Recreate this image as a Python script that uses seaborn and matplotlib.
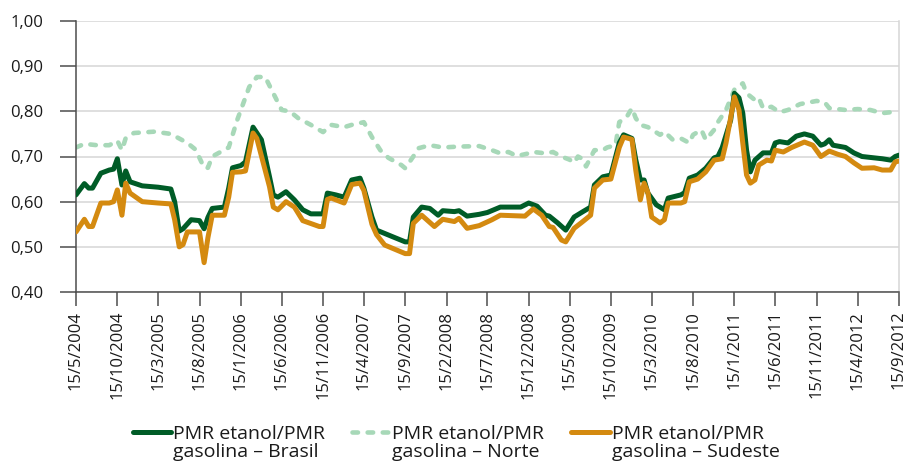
import matplotlib
matplotlib.use("Agg")
import matplotlib.pyplot as plt
from matplotlib.legend_handler import HandlerLine2D
import seaborn as sns
import pandas as pd
import numpy as np

# ---------------- data ----------------
datas_brasil = [
    "2004-05-15", "2004-06-15", "2004-07-01", "2004-07-15", "2004-08-15", "2004-09-15",
    "2004-10-01", "2004-10-15", "2004-11-01", "2004-11-15", "2004-12-01", "2005-01-15",
    "2005-03-15", "2005-05-01", "2005-05-15", "2005-06-01", "2005-06-15", "2005-07-15",
    "2005-08-15", "2005-09-01", "2005-09-15", "2005-10-01", "2005-11-15", "2005-12-01",
    "2005-12-15", "2006-01-15", "2006-02-01", "2006-03-01", "2006-04-01", "2006-05-01",
    "2006-05-15", "2006-06-01", "2006-07-01", "2006-08-01", "2006-09-01", "2006-10-01",
    "2006-11-15", "2006-12-01", "2007-01-01", "2007-02-01", "2007-03-01", "2007-04-01",
    "2007-04-15", "2007-05-15", "2007-06-01", "2007-08-01", "2007-09-15", "2007-10-01",
    "2007-10-15", "2007-11-15", "2007-12-15", "2008-01-15", "2008-02-01", "2008-03-15",
    "2008-04-01", "2008-05-01", "2008-06-15", "2008-07-15", "2008-09-01", "2008-11-15",
    "2008-12-15", "2009-01-15", "2009-02-15", "2009-03-01", "2009-04-01", "2009-05-01",
    "2009-06-01", "2009-07-01", "2009-08-01", "2009-08-15", "2009-09-15", "2009-10-15",
    "2009-11-15", "2009-12-01", "2010-01-01", "2010-01-15", "2010-02-01", "2010-02-15",
    "2010-03-01", "2010-04-01", "2010-05-01", "2010-05-15", "2010-07-01", "2010-07-15",
    "2010-08-01", "2010-09-01", "2010-10-01", "2010-11-01", "2010-11-15", "2010-12-01",
    "2011-01-01", "2011-01-15", "2011-02-01", "2011-02-15", "2011-03-01", "2011-03-15",
    "2011-04-01", "2011-05-01", "2011-06-01", "2011-06-15", "2011-07-01", "2011-08-01",
    "2011-09-01", "2011-10-01", "2011-11-01", "2011-12-01", "2011-12-15", "2012-01-01",
    "2012-01-15", "2012-03-01", "2012-04-01", "2012-05-01", "2012-06-15", "2012-07-15",
    "2012-08-15", "2012-09-01", "2012-09-15",
]
brasil = [
    0.615, 0.640, 0.630, 0.630, 0.663, 0.670,
    0.672, 0.695, 0.637, 0.668, 0.644, 0.635,
    0.632, 0.628, 0.600, 0.535, 0.540, 0.560,
    0.558, 0.540, 0.565, 0.585, 0.588, 0.630,
    0.675, 0.680, 0.688, 0.765, 0.737, 0.655,
    0.615, 0.610, 0.622, 0.604, 0.582, 0.573,
    0.573, 0.619, 0.615, 0.610, 0.648, 0.652,
    0.630, 0.566, 0.537, 0.522, 0.511, 0.511,
    0.566, 0.588, 0.585, 0.570, 0.580, 0.578,
    0.580, 0.568, 0.572, 0.576, 0.588, 0.588,
    0.597, 0.590, 0.570, 0.568, 0.553, 0.537,
    0.566, 0.577, 0.588, 0.637, 0.655, 0.659,
    0.730, 0.748, 0.740, 0.693, 0.648, 0.648,
    0.619, 0.593, 0.582, 0.608, 0.615, 0.620,
    0.652, 0.659, 0.674, 0.697, 0.700, 0.720,
    0.780, 0.840, 0.830, 0.796, 0.714, 0.666,
    0.692, 0.708, 0.708, 0.730, 0.733, 0.730,
    0.745, 0.750, 0.745, 0.725, 0.728, 0.737,
    0.725, 0.720, 0.708, 0.700, 0.697, 0.695,
    0.692, 0.700, 0.703,
]

datas_norte = [
    "2004-05-15", "2004-06-15", "2004-08-01", "2004-09-15", "2004-10-01", "2004-10-15",
    "2004-11-01", "2004-11-15", "2004-12-15", "2005-03-01", "2005-05-01", "2005-07-01",
    "2005-08-01", "2005-09-01", "2005-09-15", "2005-10-01", "2005-12-01", "2006-01-01",
    "2006-02-15", "2006-03-15", "2006-04-15", "2006-05-15", "2006-06-15", "2006-07-15",
    "2006-08-15", "2006-10-01", "2006-11-15", "2006-12-15", "2007-02-01", "2007-03-01",
    "2007-04-15", "2007-05-15", "2007-06-15", "2007-07-15", "2007-09-01", "2007-09-15",
    "2007-10-15", "2007-11-01", "2007-12-15", "2008-02-01", "2008-04-01", "2008-06-15",
    "2008-08-01", "2008-09-01", "2008-10-01", "2008-11-01", "2008-12-15", "2009-01-01",
    "2009-02-15", "2009-03-15", "2009-04-15", "2009-05-15", "2009-06-01", "2009-06-15",
    "2009-07-01", "2009-07-15", "2009-08-15", "2009-09-15", "2009-10-01", "2009-11-01",
    "2009-11-15", "2009-12-15", "2010-01-01", "2010-01-15", "2010-02-01", "2010-03-01",
    "2010-04-15", "2010-05-01", "2010-06-01", "2010-07-01", "2010-08-01", "2010-08-15",
    "2010-09-15", "2010-10-01", "2010-11-01", "2010-11-15", "2010-12-15", "2011-01-15",
    "2011-02-15", "2011-03-01", "2011-04-01", "2011-04-15", "2011-05-01", "2011-06-01",
    "2011-07-01", "2011-08-01", "2011-09-15", "2011-11-15", "2011-12-15", "2012-01-01",
    "2012-03-01", "2012-04-15", "2012-06-01", "2012-07-15", "2012-09-15",
]
norte = [
    0.720, 0.728, 0.725, 0.725, 0.730, 0.735,
    0.714, 0.741, 0.752, 0.755, 0.750, 0.730,
    0.715, 0.675, 0.675, 0.700, 0.720, 0.780,
    0.854, 0.876, 0.876, 0.840, 0.803, 0.800,
    0.785, 0.770, 0.754, 0.770, 0.765, 0.770,
    0.776, 0.743, 0.714, 0.697, 0.681, 0.674,
    0.700, 0.718, 0.725, 0.720, 0.722, 0.723,
    0.714, 0.707, 0.710, 0.701, 0.707, 0.710,
    0.707, 0.710, 0.700, 0.693, 0.686, 0.700,
    0.695, 0.678, 0.714, 0.714, 0.720, 0.725,
    0.776, 0.790, 0.807, 0.785, 0.770, 0.765,
    0.748, 0.755, 0.737, 0.740, 0.730, 0.748,
    0.759, 0.737, 0.759, 0.776, 0.803, 0.848,
    0.862, 0.840, 0.825, 0.830, 0.807, 0.810,
    0.798, 0.803, 0.816, 0.823, 0.820, 0.807,
    0.803, 0.805, 0.803, 0.796, 0.800,
]

datas_sudeste = [
    "2004-05-15", "2004-06-15", "2004-07-01", "2004-07-15", "2004-08-15", "2004-09-15",
    "2004-10-01", "2004-10-15", "2004-11-01", "2004-11-15", "2004-12-01", "2005-01-15",
    "2005-03-15", "2005-05-01", "2005-05-15", "2005-06-01", "2005-06-15", "2005-07-01",
    "2005-08-15", "2005-09-01", "2005-09-15", "2005-10-01", "2005-11-15", "2005-12-01",
    "2005-12-15", "2006-01-15", "2006-02-01", "2006-03-01", "2006-03-15", "2006-05-01",
    "2006-05-15", "2006-06-01", "2006-07-01", "2006-08-01", "2006-09-01", "2006-11-01",
    "2006-11-15", "2006-12-01", "2006-12-15", "2007-02-01", "2007-03-01", "2007-04-01",
    "2007-04-15", "2007-05-15", "2007-06-01", "2007-07-01", "2007-09-15", "2007-10-01",
    "2007-10-15", "2007-11-15", "2008-01-01", "2008-02-01", "2008-03-15", "2008-04-01",
    "2008-05-01", "2008-06-15", "2008-08-01", "2008-09-01", "2008-12-01", "2009-01-01",
    "2009-02-01", "2009-03-01", "2009-03-15", "2009-04-15", "2009-05-01", "2009-06-01",
    "2009-07-01", "2009-08-01", "2009-08-15", "2009-09-15", "2009-10-15", "2009-11-15",
    "2009-12-01", "2010-01-01", "2010-01-15", "2010-02-01", "2010-02-15", "2010-03-01",
    "2010-03-15", "2010-04-15", "2010-05-01", "2010-05-15", "2010-07-01", "2010-07-15",
    "2010-08-01", "2010-09-01", "2010-10-01", "2010-11-01", "2010-12-01", "2010-12-15",
    "2011-01-01", "2011-01-15", "2011-02-01", "2011-02-15", "2011-03-01", "2011-03-15",
    "2011-04-01", "2011-04-15", "2011-05-15", "2011-06-01", "2011-06-15", "2011-07-15",
    "2011-08-15", "2011-10-01", "2011-11-01", "2011-12-01", "2012-01-01", "2012-02-01",
    "2012-03-01", "2012-04-01", "2012-05-01", "2012-06-15", "2012-07-15", "2012-08-15",
    "2012-09-01", "2012-09-15",
]
sudeste = [
    0.533, 0.561, 0.545, 0.545, 0.597, 0.597,
    0.600, 0.626, 0.570, 0.641, 0.619, 0.600,
    0.597, 0.595, 0.560, 0.500, 0.505, 0.533,
    0.533, 0.465, 0.520, 0.570, 0.570, 0.610,
    0.665, 0.666, 0.668, 0.752, 0.740, 0.633,
    0.588, 0.582, 0.600, 0.588, 0.558, 0.545,
    0.545, 0.605, 0.608, 0.597, 0.638, 0.641,
    0.625, 0.550, 0.527, 0.504, 0.485, 0.485,
    0.552, 0.570, 0.545, 0.561, 0.556, 0.563,
    0.541, 0.547, 0.560, 0.570, 0.568, 0.584,
    0.570, 0.545, 0.543, 0.515, 0.511, 0.541,
    0.555, 0.570, 0.630, 0.648, 0.650, 0.720,
    0.743, 0.738, 0.670, 0.604, 0.641, 0.620,
    0.566, 0.553, 0.560, 0.597, 0.597, 0.600,
    0.644, 0.650, 0.666, 0.692, 0.695, 0.730,
    0.785, 0.832, 0.803, 0.730, 0.659, 0.641,
    0.648, 0.681, 0.692, 0.690, 0.714, 0.710,
    0.720, 0.732, 0.725, 0.700, 0.712, 0.705,
    0.700, 0.686, 0.674, 0.675, 0.670, 0.670,
    0.688, 0.690,
]

nomes = ["PMR etanol/PMR\ngasolina – Brasil",
         "PMR etanol/PMR\ngasolina – Norte",
         "PMR etanol/PMR\ngasolina – Sudeste"]

tick_labels = ["15/5/2004", "15/10/2004", "15/3/2005", "15/8/2005", "15/1/2006",
               "15/6/2006", "15/11/2006", "15/4/2007", "15/9/2007", "15/2/2008",
               "15/7/2008", "15/12/2008", "15/5/2009", "15/10/2009", "15/3/2010",
               "15/8/2010", "15/1/2011", "15/6/2011", "15/11/2011", "15/4/2012",
               "15/9/2012"]
y_ticks = [0.40, 0.50, 0.60, 0.70, 0.80, 0.90, 1.00]

cor_brasil = "#005c27"
cor_norte = "#a7d8b8"
cor_sudeste = "#d48a10"


class HandlerTopLine(HandlerLine2D):
    """Legend handle aligned with the first line of a two-line label."""
    def __init__(self, shift, **kw):
        super().__init__(**kw)
        self.shift = shift

    def create_artists(self, legend, orig_handle, xdescent, ydescent, width, height,
                       fontsize, trans):
        arts = super().create_artists(legend, orig_handle, xdescent, ydescent, width,
                                      height, fontsize, trans)
        for a in arts:
            a.set_ydata(np.asarray(a.get_ydata(), dtype=float) + self.shift)
        return arts


# ---------------- plot ----------------
sns.set_theme(style="white")
plt.rcParams['font.family'] = ['Open Sans', 'DejaVu Sans']

fig = plt.figure(figsize=(9.12, 4.63), dpi=100)
ax = fig.add_axes([76 / 912, 1 - 292 / 463, (899 - 76) / 912, (292 - 21) / 463])

df_b = pd.DataFrame({"data": pd.to_datetime(datas_brasil), "valor": brasil})
df_n = pd.DataFrame({"data": pd.to_datetime(datas_norte), "valor": norte})
df_s = pd.DataFrame({"data": pd.to_datetime(datas_sudeste), "valor": sudeste})

sns.lineplot(data=df_n, x="data", y="valor", ax=ax, color=cor_norte, lw=3.3,
             linestyle=(0, (1.2, 2.1)), dash_capstyle="round", estimator=None,
             label=nomes[1], zorder=2)
sns.lineplot(data=df_b, x="data", y="valor", ax=ax, color=cor_brasil, lw=3.6,
             estimator=None, label=nomes[0], zorder=3)
sns.lineplot(data=df_s, x="data", y="valor", ax=ax, color=cor_sudeste, lw=3.6,
             estimator=None, label=nomes[2], zorder=4)

tick_dates = pd.to_datetime(tick_labels, format="%d/%m/%Y")
ax.set_xlim(tick_dates[0], tick_dates[-1])
ax.set_xticks(tick_dates)
ax.set_xticklabels(tick_labels, rotation=90, fontsize=12, color="#1a1a1a")
ax.set_ylim(0.40, 1.00)
ax.set_yticks(y_ticks)
ax.set_yticklabels([f"{v:.2f}".replace(".", ",") for v in y_ticks], fontsize=12,
                   color="#1a1a1a")
ax.set_xlabel("")
ax.set_ylabel("")

ax.grid(axis="y", color="#d6d6d6", lw=1.1)
ax.grid(axis="x", visible=False)
ax.set_axisbelow(True)
for s in ["left", "bottom"]:
    ax.spines[s].set_color("#4d4d4d")
    ax.spines[s].set_linewidth(1.1)
ax.spines["top"].set_visible(False)
ax.spines["right"].set_color("#d6d6d6")
ax.spines["right"].set_linewidth(1.1)
ax.tick_params(axis="x", direction="out", length=10, width=1.1, color="#4d4d4d",
               pad=3.5, bottom=True)
ax.tick_params(axis="y", direction="out", length=11.5, width=1.1, color="#4d4d4d",
               pad=12, left=True)

h, l = ax.get_legend_handles_labels()
ax.get_legend().remove()
order = [1, 0, 2]
h = [h[i] for i in order]
l = [l[i] for i in order]
fs_leg = 14
hmap = {hh: HandlerTopLine(shift=0.58 * fs_leg) for hh in h}
leg = fig.legend(h, l, loc="center", bbox_to_anchor=(0.5, 0.043), ncol=3,
                 frameon=False, fontsize=fs_leg, handlelength=2.0, handletextpad=0.1,
                 columnspacing=1.35, handler_map=hmap)
for t in leg.get_texts():
    t.set_linespacing(1.05)
    t.set_color("#1a1a1a")

fig.savefig("out.png", dpi=100)
